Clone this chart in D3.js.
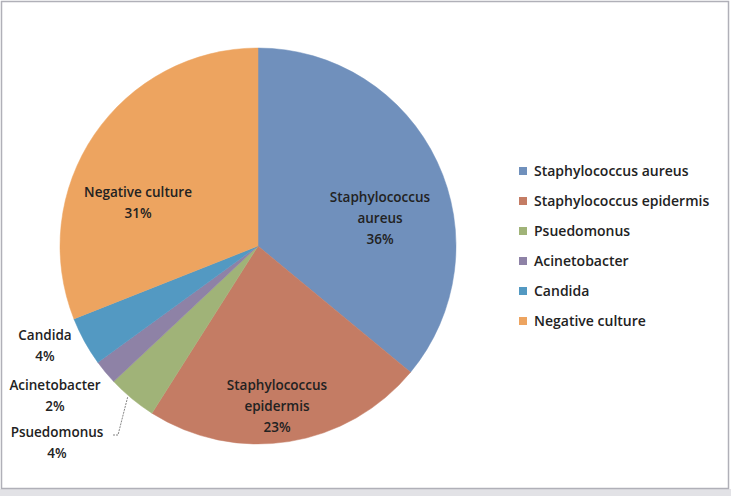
<!DOCTYPE html>
<html>
<head>
<meta charset="utf-8">
<script src="https://cdn.jsdelivr.net/npm/d3@7"></script>
<style>
  body { margin: 0; background: #fff; }
  text { font-family: "Open Sans", "Noto Sans", sans-serif; fill: #222; }
</style>
</head>
<body>
<div id="pie_div"></div>
<script>
const categories = [
  "Staphylococcus aureus",
  "Staphylococcus epidermis",
  "Psuedomonus",
  "Acinetobacter",
  "Candida",
  "Negative culture"
];
const values = [36, 23, 4, 2, 4, 31];
const colors = ["#7090bc", "#c47c64", "#a0b378", "#8e82a6", "#5399c2", "#eda460"];

// label lines and where Excel put them (layout only)
const labelLines = [
  ["Staphylococcus", "aureus", "36%"],
  ["Staphylococcus", "epidermis", "23%"],
  ["Psuedomonus", "4%"],
  ["Acinetobacter", "2%"],
  ["Candida", "4%"],
  ["Negative culture", "31%"]
];
const labelPos = [[380, 197], [277, 385], [57, 432], [55, 385], [45, 335], [138, 192]];

const width = 731,
  height = 496,
  cx = 258,
  cy = 246,
  radius = 198;

const svg = d3
  .select("#pie_div")
  .append("svg")
  .attr("width", width)
  .attr("height", height);

// chart frame
svg.append("rect")
  .attr("x", 0).attr("y", 489).attr("width", width).attr("height", 7)
  .attr("fill", "#e2e2e6");
svg.append("rect")
  .attr("x", 1.5).attr("y", 1.5).attr("width", 727).attr("height", 487)
  .attr("fill", "none").attr("stroke", "#b0b0b8").attr("stroke-width", 1.5);

const color = d3.scaleOrdinal().domain(categories).range(colors);

const pie = d3.pie().sort(null).value(d => d.value);
const arcs = pie(categories.map((c, i) => ({ name: c, value: values[i] })));

const arc = d3.arc().innerRadius(0).outerRadius(radius);
const edgeArc = d3.arc().innerRadius(radius).outerRadius(radius);

const g = svg.append("g").attr("transform", `translate(${cx},${cy})`);

g.selectAll("path")
  .data(arcs)
  .enter()
  .append("path")
  .attr("d", arc)
  .attr("fill", d => color(d.data.name))
  .attr("stroke", d => color(d.data.name))
  .attr("stroke-width", 0.5);

// leader line for Psuedomonus
const edge = edgeArc.centroid(arcs[2]);
svg.append("polyline")
  .attr("points", `113,435 118,435 ${cx + edge[0] - 4},${cy + edge[1] - 2}`)
  .attr("fill", "none")
  .attr("stroke", "#666")
  .attr("stroke-width", 0.8)
  .attr("stroke-dasharray", "2,1");

// slice labels
labelLines.forEach((lines, i) => {
  const t = svg.append("text")
    .attr("text-anchor", "middle")
    .style("font-size", "13.5px")
    .style("font-weight", 600);
  lines.forEach((l, j) => {
    t.append("tspan")
      .attr("x", labelPos[i][0])
      .attr("y", labelPos[i][1] + j * 21 + 5)
      .text(l);
  });
});

// legend
const legend = svg.append("g").attr("transform", "translate(519,171)");
const rows = legend.selectAll("g")
  .data(categories)
  .enter()
  .append("g")
  .attr("transform", (d, i) => `translate(0,${i * 30})`);
rows.append("rect")
  .attr("x", 0).attr("y", -4).attr("width", 8).attr("height", 8)
  .attr("fill", d => color(d));
rows.append("text")
  .attr("x", 15).attr("y", 5)
  .style("font-size", "14px")
  .style("font-weight", 600)
  .text(d => d);
</script>
</body>
</html>
